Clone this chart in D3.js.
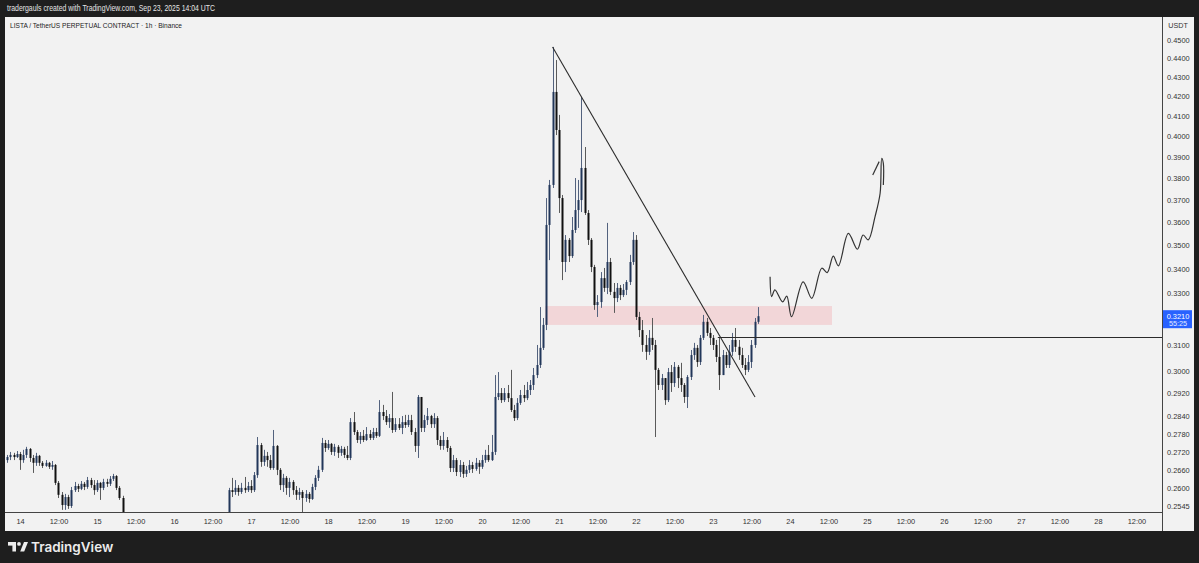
<!DOCTYPE html>
<html><head><meta charset="utf-8">
<script src="https://cdn.jsdelivr.net/npm/d3@7"></script>
<style>
body{margin:0;background:#1e1e1e;}
svg{display:block;font-family:"Liberation Sans",Arial,sans-serif;}
</style>
</head><body>
<svg id="c" width="1199" height="563"></svg>
<script>
// ---------- DATA ----------
const headerText = "tradergauls created with TradingView.com, Sep 23, 2025 14:04 UTC";
const titleText = "LISTA / TetherUS PERPETUAL CONTRACT · 1h · Binance";
const baseTime = Date.UTC(2025, 8, 14, 0);   // Sep 14 00:00 UTC
const firstCandleOffset = -4;                // first hourly candle: Sep 13 20:00
const firstOpen = 0.2692;
const closes = [
0.2702,0.2709,0.2702,0.2712,0.2692,0.2709,0.2729,0.2699,0.2683,0.2706,0.2683,0.2673,0.2683,0.2670,0.2676,
0.2618,0.2580,0.2548,0.2573,0.2545,0.2595,0.2608,0.2599,0.2615,0.2605,0.2627,0.2611,0.2595,0.2618,0.2602,0.2621,0.2615,0.2631,0.2640,0.2602,0.2570,0.2517,
0.2508,0.2495,0.2482,0.2470,0.2476,0.2462,0.2455,0.2468,0.2479,0.2471,0.2460,0.2452,0.2447,0.2458,0.2466,0.2474,0.2481,0.2475,0.2463,0.2470,0.2484,0.2490,0.2478,0.2486,0.2494,0.2488,0.2499,0.2505,0.2497,0.2503,0.2510,0.2515,
0.2595,0.2589,0.2602,0.2589,0.2602,0.2595,0.2608,0.2595,0.2643,0.2742,0.2686,0.2706,0.2692,0.2666,0.2739,0.2660,0.2611,0.2634,0.2602,0.2621,0.2595,0.2580,0.2589,0.2570,0.2583,0.2567,0.2605,0.2634,0.2660,0.2749,
0.2732,0.2746,0.2719,0.2736,0.2716,0.2729,0.2709,0.2699,0.2820,0.2786,0.2759,0.2773,0.2759,0.2779,0.2766,0.2786,0.2773,0.2855,0.2841,0.2820,0.2834,0.2793,0.2813,0.2800,0.2820,0.2810,0.2827,0.2786,0.2739,0.2908,
0.2800,0.2827,0.2841,0.2813,0.2834,0.2759,0.2739,0.2759,0.2732,0.2666,0.2692,0.2653,0.2676,0.2647,0.2660,0.2676,0.2663,0.2683,0.2670,0.2692,0.2709,0.2692,0.2719,0.2908,0.2922,0.2897,0.2922,0.2904,0.2862,0.2834,
0.2887,0.2915,0.2904,0.2933,0.2951,0.2987,0.3024,0.3088,0.3176,0.3589,0.3769,0.4223,0.4031,0.3709,0.3430,0.3524,0.3455,0.3567,0.3655,0.3700,0.3848,0.3642,0.3524,0.3409,0.3254,0.3266,0.3363,0.3323,0.3430,0.3307,
0.3282,0.3323,0.3294,0.3315,0.3347,0.3430,0.3524,0.3207,0.3156,0.3099,0.3073,0.3126,0.3099,0.3006,0.2951,0.2976,0.2897,0.2998,0.2958,0.3017,0.2976,0.2951,0.2908,0.2980,0.3061,0.3088,0.3035,0.3126,0.3188,0.3145,
0.3126,0.3099,0.3054,0.2987,0.3061,0.3024,0.3073,0.3118,0.3092,0.3061,0.3024,0.3006,0.3035,0.3099,0.3188,0.3210];
const highs = [
0.2709,0.2719,0.2716,0.2722,0.2719,0.2726,0.2736,0.2732,0.2709,0.2716,0.2709,0.2689,0.2692,0.2686,0.2689,
0.2679,0.2624,0.2589,0.2583,0.2580,0.2605,0.2621,0.2615,0.2624,0.2621,0.2637,0.2634,0.2627,0.2627,0.2621,0.2631,0.2631,0.2640,0.2647,0.2643,0.2608,0.2577,
0.2520,0.2512,0.2500,0.2488,0.2481,0.2479,0.2466,0.2472,0.2484,0.2483,0.2475,0.2464,0.2457,0.2462,0.2470,0.2479,0.2486,0.2485,0.2478,0.2474,0.2489,0.2496,0.2493,0.2490,0.2499,0.2498,0.2504,0.2511,0.2508,0.2509,0.2516,0.2519,
0.2602,0.2634,0.2627,0.2611,0.2618,0.2637,0.2621,0.2627,0.2653,0.2769,0.2749,0.2726,0.2719,0.2709,0.2793,0.2742,0.2666,0.2647,0.2640,0.2634,0.2627,0.2608,0.2602,0.2595,0.2595,0.2589,0.2615,0.2643,0.2673,0.2766,
0.2759,0.2759,0.2749,0.2746,0.2742,0.2739,0.2736,0.2739,0.2834,0.2855,0.2793,0.2786,0.2793,0.2803,0.2793,0.2800,0.2800,0.2897,0.2880,0.2862,0.2848,0.2926,0.2834,0.2834,0.2841,0.2845,0.2845,0.2845,0.2800,0.2915,
0.2908,0.2845,0.2869,0.2845,0.2851,0.2841,0.2773,0.2786,0.2769,0.2739,0.2709,0.2699,0.2692,0.2686,0.2673,0.2692,0.2686,0.2699,0.2692,0.2709,0.2726,0.2742,0.2776,0.2987,0.2998,0.2940,0.2940,0.2951,0.3006,0.2880,
0.2904,0.2933,0.2951,0.2962,0.2969,0.3013,0.3099,0.3246,0.3203,0.3709,0.3792,0.4462,0.4391,0.4106,0.3723,0.3545,0.3532,0.3624,0.3801,0.3792,0.4197,0.3948,0.3655,0.3532,0.3418,0.3294,0.3388,0.3405,0.3598,0.3447,
0.3343,0.3343,0.3335,0.3339,0.3355,0.3460,0.3558,0.3545,0.3227,0.3195,0.3137,0.3156,0.3203,0.3118,0.3013,0.2991,0.2976,0.3013,0.3024,0.3035,0.3024,0.3032,0.2958,0.2987,0.3080,0.3107,0.3099,0.3137,0.3215,0.3203,
0.3164,0.3137,0.3118,0.3126,0.3080,0.3073,0.3099,0.3145,0.3164,0.3118,0.3088,0.3050,0.3061,0.3118,0.3203,0.3246];
const lows = [
0.2683,0.2692,0.2692,0.2699,0.2660,0.2683,0.2699,0.2686,0.2650,0.2673,0.2673,0.2666,0.2670,0.2663,0.2660,
0.2611,0.2570,0.2533,0.2533,0.2536,0.2539,0.2589,0.2589,0.2595,0.2595,0.2599,0.2602,0.2580,0.2589,0.2564,0.2595,0.2605,0.2608,0.2624,0.2595,0.2564,0.2502,
0.2501,0.2489,0.2476,0.2463,0.2465,0.2456,0.2448,0.2451,0.2463,0.2466,0.2455,0.2446,0.2440,0.2443,0.2454,0.2462,0.2470,0.2471,0.2458,0.2459,0.2466,0.2480,0.2473,0.2474,0.2482,0.2483,0.2485,0.2495,0.2492,0.2493,0.2499,0.2505,
0.2502,0.2573,0.2580,0.2577,0.2583,0.2586,0.2589,0.2586,0.2589,0.2634,0.2670,0.2673,0.2670,0.2660,0.2660,0.2643,0.2595,0.2589,0.2580,0.2573,0.2580,0.2564,0.2564,0.2508,0.2558,0.2555,0.2564,0.2595,0.2624,0.2653,
0.2719,0.2726,0.2709,0.2706,0.2699,0.2706,0.2699,0.2692,0.2692,0.2776,0.2749,0.2746,0.2752,0.2756,0.2759,0.2759,0.2766,0.2769,0.2827,0.2810,0.2800,0.2783,0.2786,0.2793,0.2779,0.2800,0.2803,0.2776,0.2719,0.2699,
0.2786,0.2786,0.2810,0.2800,0.2800,0.2742,0.2726,0.2726,0.2719,0.2653,0.2653,0.2640,0.2637,0.2634,0.2637,0.2650,0.2650,0.2657,0.2647,0.2663,0.2683,0.2686,0.2689,0.2709,0.2897,0.2887,0.2890,0.2890,0.2855,0.2824,
0.2827,0.2880,0.2890,0.2897,0.2915,0.2933,0.2976,0.3013,0.3080,0.3156,0.3438,0.3755,0.4006,0.3642,0.3355,0.3388,0.3430,0.3447,0.3554,0.3576,0.3646,0.3633,0.3502,0.3388,0.3235,0.3207,0.3243,0.3307,0.3298,0.3294,
0.3223,0.3266,0.3274,0.3286,0.3294,0.3335,0.3418,0.3195,0.3129,0.3073,0.3043,0.3061,0.3080,0.2769,0.2933,0.2933,0.2880,0.2890,0.2926,0.2944,0.2940,0.2926,0.2887,0.2869,0.2969,0.3043,0.3017,0.3024,0.3118,0.3133,
0.3099,0.3080,0.3035,0.2933,0.3006,0.3013,0.3013,0.3058,0.3073,0.3043,0.3013,0.2987,0.2998,0.3013,0.3088,0.3180];

const priceTicks = [0.45,0.44,0.43,0.42,0.41,0.40,0.39,0.38,0.37,0.36,0.35,0.34,0.33,0.31,0.30,0.292,0.284,0.278,0.272,0.266,0.26,0.2545];
const lastPrice = 0.3210;
const countdown = "55:25";
const axisUnit = "USDT";

// drawings (hours from Sep 14 00:00 UTC, prices)
const zoneHours = [163.7, 253.1];
const zonePrices = [0.3250, 0.3176];
const trendHours = [166, 229.1];
const trendPrices = [0.4462, 0.2908];
const levelHour = 217.5;
const levelPrice = 0.3128;
const sketchHours = [233.8,234.3,235.3,237.7,239.0,240.5,244.1,246.8,249.9,251.6,253.5,255.1,258.2,261.0,262.8,264.4,266.5,268.1,268.6,269.1,269.1];
const sketchPrices = [0.3369,0.3288,0.3315,0.3267,0.3290,0.3208,0.3348,0.3281,0.3404,0.3386,0.3455,0.3414,0.3552,0.3484,0.3545,0.3524,0.3625,0.3731,0.3894,0.3870,0.3769];
const arrowHours = [265.8, 267.8];
const arrowPrices = [0.3815, 0.3878];

// ---------- LAYOUT ----------
const H = 3600e3;
const T = h => new Date(baseTime + h * H);
const plot = {l: 6, r: 1162, t: 17, b: 512};
const svg = d3.select("#c");

const x = d3.scaleUtc().domain([T(-4.364), T(355.96)]).range([plot.l, plot.r]);
const y = d3.scaleLog().domain([0.2545, 0.45]).range([506, 40]);

// backgrounds
svg.append("rect").attr("width",1199).attr("height",563).attr("fill","#1e1e1e");
svg.append("rect").attr("x",5).attr("y",17).attr("width",1189).attr("height",514).attr("fill","#f2f2f2");

svg.append("text").attr("x",7).attr("y",11).attr("fill","#e6e6e6").attr("font-size",8.2)
  .attr("textLength",208).attr("lengthAdjust","spacingAndGlyphs").text(headerText);

svg.append("defs").append("clipPath").attr("id","pc").append("rect")
  .attr("x",plot.l).attr("y",plot.t).attr("width",plot.r-plot.l).attr("height",plot.b-plot.t);
const g = svg.append("g").attr("clip-path","url(#pc)");

// zone
g.append("rect")
  .attr("x", x(T(zoneHours[0]))).attr("width", x(T(zoneHours[1])) - x(T(zoneHours[0])))
  .attr("y", y(zonePrices[0])).attr("height", y(zonePrices[1]) - y(zonePrices[0]))
  .attr("fill","#f23645").attr("fill-opacity",0.15);

// candles
const candles = closes.map((c,i)=>{
  const o = i===0 ? firstOpen : closes[i-1];
  return {t: T(firstCandleOffset + i), o, c, h: Math.max(highs[i], o, c), l: Math.min(lows[i], o, c)};
});
const upCol = "#22375a", dnCol = "#111111";
g.selectAll("line.wick").data(candles).join("line")
  .attr("x1", d=>Math.round(x(d.t))+0.5).attr("x2", d=>Math.round(x(d.t))+0.5)
  .attr("y1", d=>y(d.h)).attr("y2", d=>y(d.l))
  .attr("stroke", d=>d.c>=d.o ? "#53627e" : "#5a5a5a").attr("stroke-width",1);
g.selectAll("rect.body").data(candles).join("rect")
  .attr("x", d=>Math.round(x(d.t))-0.5).attr("width",2)
  .attr("y", d=>y(Math.max(d.o,d.c)))
  .attr("height", d=>Math.max(1, Math.abs(y(d.o)-y(d.c))))
  .attr("fill", d=>d.c>=d.o ? upCol : dnCol);

// trend line
g.append("line")
  .attr("x1", x(T(trendHours[0]))).attr("y1", y(trendPrices[0]))
  .attr("x2", x(T(trendHours[1]))).attr("y2", y(trendPrices[1]))
  .attr("stroke","#2b2b2b").attr("stroke-width",1.1);

// horizontal level
g.append("line")
  .attr("x1", x(T(levelHour))).attr("x2", plot.r)
  .attr("y1", Math.round(y(levelPrice))+0.5).attr("y2", Math.round(y(levelPrice))+0.5)
  .attr("stroke","#2b2b2b").attr("stroke-width",1);

// hand sketch
const sk = sketchHours.map((h,i)=>[x(T(h)), y(sketchPrices[i])]);
g.append("path").attr("d", d3.line().curve(d3.curveCatmullRom.alpha(0.5))(sk))
  .attr("fill","none").attr("stroke","#333").attr("stroke-width",1.2).attr("stroke-linejoin","round");
g.append("path").attr("d", d3.line()(arrowHours.map((h,i)=>[x(T(h)), y(arrowPrices[i])])))
  .attr("fill","none").attr("stroke","#333").attr("stroke-width",1.2);

// title
svg.append("text").attr("x",10).attr("y",27.5).attr("fill","#222").attr("font-size",8)
  .attr("textLength",172).attr("lengthAdjust","spacingAndGlyphs").text(titleText);

// axes frame
svg.append("line").attr("x1",plot.r+0.5).attr("x2",plot.r+0.5).attr("y1",17).attr("y2",531).attr("stroke","#444");
svg.append("line").attr("x1",5).attr("x2",plot.r).attr("y1",plot.b+0.5).attr("y2",plot.b+0.5).attr("stroke","#444");

// price axis
const pa = svg.append("g").attr("transform",`translate(${plot.r},0)`)
  .call(d3.axisRight(y).tickValues(priceTicks).tickSize(0).tickPadding(5).tickFormat(d3.format(".4f")));
pa.select(".domain").remove();
pa.selectAll("text").attr("font-size",7.4).attr("fill","#333").attr("font-family","Liberation Sans, Arial, sans-serif");
svg.append("text").attr("x",1178).attr("y",28).attr("text-anchor","middle").attr("font-size",7.2).attr("fill","#333").text(axisUnit);

// current price badge
const yp = y(lastPrice);
svg.append("rect").attr("x",plot.r+1).attr("y",yp-6).attr("width",29).attr("height",18).attr("fill","#2962ff");
svg.append("text").attr("x",plot.r+16).attr("y",yp+2.5).attr("text-anchor","middle").attr("font-size",7.4).attr("fill","#fff").text(d3.format(".4f")(lastPrice));
svg.append("text").attr("x",plot.r+16).attr("y",yp+10).attr("text-anchor","middle").attr("font-size",7.2).attr("fill","#e8eeff").text(countdown);

// time axis
const ta = svg.append("g").attr("transform",`translate(0,${plot.b})`)
  .call(d3.axisBottom(x).ticks(d3.utcHour.every(12)).tickSize(0).tickPadding(7)
    .tickFormat(d => d.getUTCHours()===0 ? String(d.getUTCDate()) : "12:00"));
ta.select(".domain").remove();
ta.selectAll("text").attr("font-size",7.4).attr("fill","#333").attr("font-family","Liberation Sans, Arial, sans-serif");

// TradingView logo
const lg = svg.append("g").attr("fill","#ececec");
lg.append("rect").attr("x",8).attr("y",542).attr("width",8).attr("height",3.6);
lg.append("rect").attr("x",12.4).attr("y",542).attr("width",3.6).attr("height",9.5);
lg.append("circle").attr("cx",19).attr("cy",543.9).attr("r",1.9);
lg.append("path").attr("d","M20.2,551.5 L24,542 L28,542 L24.2,551.5 Z");
svg.append("text").attr("x",31).attr("y",551.5).attr("fill","#ececec").attr("font-size",13.5)
  .attr("font-weight",600).attr("font-family","Inter, 'Liberation Sans', Arial, sans-serif").text("TradingView");
</script>
</body></html>
